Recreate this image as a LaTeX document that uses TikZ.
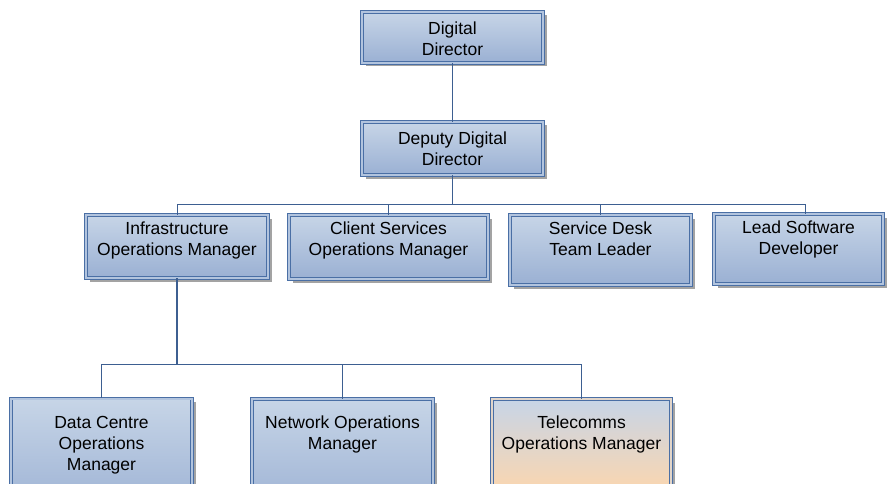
\documentclass[tikz,border=0pt]{standalone}
\usepackage{fontspec}
\setmainfont{Liberation Sans}
\usetikzlibrary{positioning, shadows}

\definecolor{boxline}{HTML}{4A6FA5}
\definecolor{boxtop}{HTML}{C7D5E7}
\definecolor{boxbot}{HTML}{9AB0D3}
\definecolor{boxmid}{HTML}{B2C4DE}
\definecolor{peach}{HTML}{FCD6AE}
\definecolor{linkcol}{HTML}{3D5F91}

\begin{document}
\begin{tikzpicture}[x=1pt, y=-1pt,
    role/.style={draw=boxline, line width=0.7pt, double=boxmid, double distance=2pt,
        top color=boxtop, bottom color=boxbot, inner sep=0pt,
        drop shadow={shadow xshift=3.5pt, shadow yshift=-3.5pt, fill=black!45, opacity=0.8}},
    txt/.style={anchor=north, yshift=-#1, inner sep=0pt, align=center, text=black,
        font=\fontsize{17.5}{21}\selectfont},
    link/.style={draw=linkcol, line width=0.8pt}]
    \useasboundingbox (0,0) rectangle (889,484);

    \node[role, minimum width=181pt, minimum height=51pt,
        label={[txt=10pt]north:Digital\\Director}] (dd) at (452.5,37.5) {};
    \node[role, minimum width=181pt, minimum height=53pt,
        label={[txt=10pt]north:Deputy Digital\\Director}] (ddd) at (452.5,148.5) {};

    \node[role, minimum width=182pt, minimum height=63pt,
        label={[txt=6.5pt]north:Infrastructure\\Operations Manager}] (infra) at (177,246.5) {};
    \node[role, minimum width=199pt, minimum height=64pt,
        label={[txt=6.5pt]north:Client Services\\Operations Manager}] (client) at (388.5,247) {};
    \node[role, minimum width=181pt, minimum height=70pt,
        label={[txt=6.5pt]north:Service Desk\\Team Leader}] (desk) at (600.5,250) {};
    \node[role, minimum width=169pt, minimum height=70pt,
        label={[txt=7pt]north:Lead Software\\Developer}] (lead) at (798.5,249) {};

    \node[role, minimum width=181pt, minimum height=120pt,
        label={[txt=17.5pt]north:Data Centre\\Operations\\Manager}] (data) at (101.5,458.5) {};
    \node[role, minimum width=181pt, minimum height=120pt,
        label={[txt=17pt]north:Network Operations\\Manager}] (net) at (342.5,459) {};
    \node[role, minimum width=179pt, minimum height=94pt, top color=boxtop, bottom color=peach,
        double=peach!50!boxtop,
        label={[txt=17pt]north:Telecomms\\Operations Manager}] (tele) at (581.5,446) {};

    % connectors
    \coordinate (bus1) at (ddd.south |- 0,204);
    \coordinate (bus2) at (infra.south |- 0,364);
    \draw[link] (dd.south) -- (ddd.north);
    \draw[link] (ddd.south) -- (bus1);
    \draw[link] (bus1) -| (infra.north);
    \draw[link] (bus1) -| (client.north);
    \draw[link] (bus1) -| (desk.north);
    \draw[link] (bus1) -| ([xshift=6.5pt]lead.north);
    \draw[link, line width=1.4pt] (infra.south) -- (bus2);
    \draw[link] (bus2) -| (data.north);
    \draw[link] (bus2) -| (net.north);
    \draw[link] (bus2) -| (tele.north);
\end{tikzpicture}
\end{document}
